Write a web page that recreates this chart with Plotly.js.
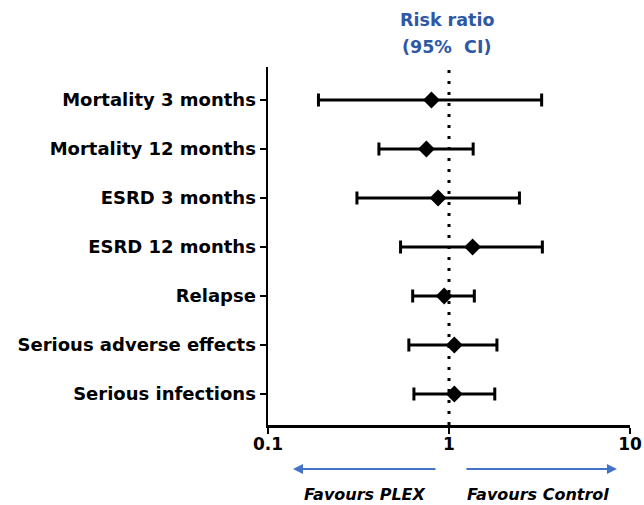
<!DOCTYPE html>
<html>
<head>
<meta charset="utf-8">
<script src="https://cdn.plot.ly/plotly-3.0.1.min.js"></script>
<style>html,body{margin:0;padding:0;background:#fff;}#chart{width:644px;height:505px;}</style>
</head>
<body>
<div id="chart"></div>
<script>
const categories = ["Mortality 3 months", "Mortality 12 months", "ESRD 3 months", "ESRD 12 months", "Relapse", "Serious adverse effects", "Serious infections"];
const riskRatio = [0.80, 0.75, 0.87, 1.35, 0.94, 1.07, 1.07];
const ciLower = [0.19, 0.41, 0.31, 0.54, 0.63, 0.60, 0.64];
const ciUpper = [3.25, 1.36, 2.45, 3.28, 1.38, 1.84, 1.79];
const xTickVals = [0.1, 1, 10];
const xTickText = ["0.1", "1", "10"];

const FONT = "DejaVu Sans, Arial, sans-serif";
const BLUE_TITLE = "#2E58A6";
const BLUE_ARROW = "#4472C4";

const trace = {
  type: "scatter",
  mode: "markers",
  x: riskRatio,
  y: categories,
  marker: {symbol: "diamond", size: 13, color: "#000"},
  error_x: {
    type: "data",
    symmetric: false,
    array: riskRatio.map((v, i) => ciUpper[i] - v),
    arrayminus: riskRatio.map((v, i) => v - ciLower[i]),
    color: "#000",
    thickness: 3,
    width: 6.5
  },
  hoverinfo: "none",
  showlegend: false
};

const layout = {
  width: 644, height: 505,
  margin: {l: 268, r: 14, t: 67, b: 80},
  paper_bgcolor: "#fff", plot_bgcolor: "#fff",
  font: {family: FONT, color: "#000"},
  xaxis: {
    type: "log",
    range: [-1, 1],
    tickvals: xTickVals,
    ticktext: xTickText,
    showgrid: false, zeroline: false,
    showline: true, linecolor: "#000", linewidth: 2.5,
    ticks: "outside", ticklen: 6, tickwidth: 2.5, tickcolor: "#000",
    ticklabelstandoff: -4,
    tickfont: {family: FONT, size: 17, weight: "bold", color: "#000"},
    fixedrange: true
  },
  yaxis: {
    type: "category",
    categoryorder: "array",
    categoryarray: categories,
    range: [6.633, -0.673],
    showgrid: false, zeroline: false,
    showline: true, linecolor: "#000", linewidth: 2.5,
    ticks: "outside", ticklen: 6, tickwidth: 2.5, tickcolor: "#000",
    tickfont: {family: FONT, size: 18, weight: "bold", color: "#000"},
    fixedrange: true
  },
  shapes: [{
    type: "line", xref: "x", yref: "paper",
    x0: 1, x1: 1, y0: 0, y1: 1,
    line: {color: "#000", width: 3, dash: "3px,8px"},
    layer: "below"
  }],
  annotations: [
    {xref: "paper", yref: "paper", x: 0.494, y: 1.131, text: "<b>Risk ratio</b>", showarrow: false,
     font: {family: FONT, size: 17.5, color: BLUE_TITLE}, xanchor: "center", yanchor: "middle"},
    {xref: "paper", yref: "paper", x: 0.494, y: 1.056, text: "<b>(95%  CI)</b>", showarrow: false,
     font: {family: FONT, size: 17.5, color: BLUE_TITLE}, xanchor: "center", yanchor: "middle"},
    {xref: "paper", yref: "paper", x: 0.069, y: -0.1229, ax: 144, ay: 0, text: "", showarrow: true,
     arrowhead: 2, arrowsize: 1, arrowwidth: 2, arrowcolor: BLUE_ARROW},
    {xref: "paper", yref: "paper", x: 0.964, y: -0.1229, ax: -152, ay: 0, text: "", showarrow: true,
     arrowhead: 2, arrowsize: 1, arrowwidth: 2, arrowcolor: BLUE_ARROW},
    {xref: "paper", yref: "paper", x: (364.5 - 268) / 362, y: -0.1955, text: "<b><i>Favours PLEX</i></b>", showarrow: false,
     font: {family: FONT, size: 16, color: "#000"}, xanchor: "center", yanchor: "middle"},
    {xref: "paper", yref: "paper", x: (538 - 268) / 362, y: -0.1955, text: "<b><i>Favours Control</i></b>", showarrow: false,
     font: {family: FONT, size: 16, color: "#000"}, xanchor: "center", yanchor: "middle"}
  ]
};

Plotly.newPlot("chart", [trace], layout, {displayModeBar: false, staticPlot: true});
</script>
</body>
</html>
